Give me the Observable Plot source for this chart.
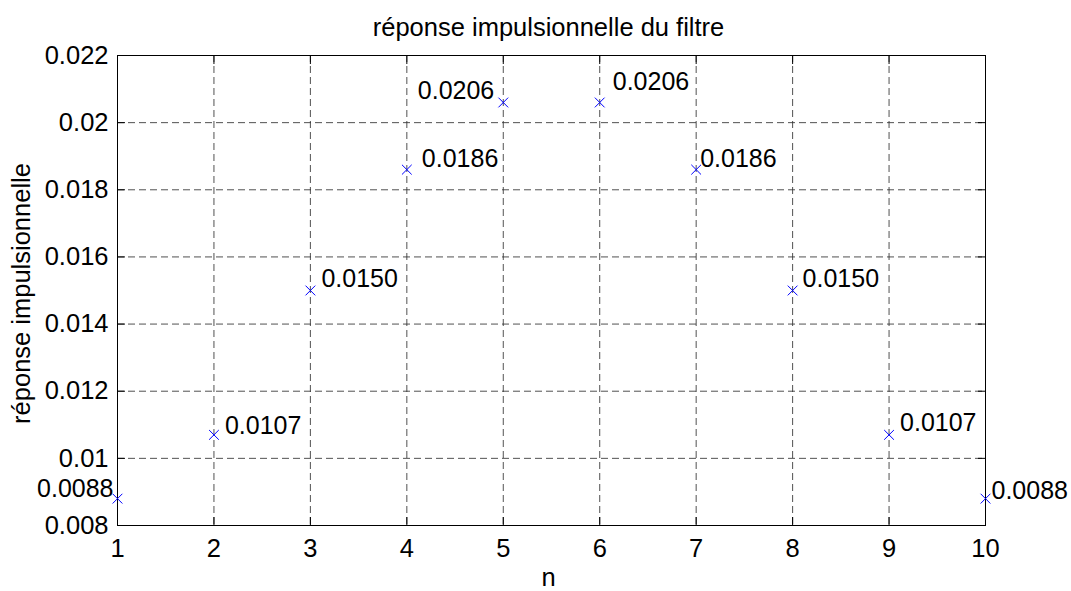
<!DOCTYPE html>
<html>
<head>
<meta charset="utf-8">
<script src="https://cdn.jsdelivr.net/npm/d3@7"></script>
<script src="https://cdn.jsdelivr.net/npm/@observablehq/plot@0.6"></script>
<style>
  html, body { margin: 0; padding: 0; background: #fff; }
  #chart { width: 1071px; height: 591px; }
</style>
</head>
<body>
<div id="chart"></div>
<script>
// ---- data ----
const n = [1, 2, 3, 4, 5, 6, 7, 8, 9, 10];
const h = [0.0088, 0.0107, 0.0150, 0.0186, 0.0206, 0.0206, 0.0186, 0.0150, 0.0107, 0.0088];
const xTicks = [1, 2, 3, 4, 5, 6, 7, 8, 9, 10];
const yTicks = [0.008, 0.010, 0.012, 0.014, 0.016, 0.018, 0.020, 0.022];
const titleText = "réponse impulsionnelle du filtre";
const xLabelText = "n";
const yLabelText = "réponse impulsionnelle";

// ---- label placement (style) ----
const labelPlacement = [
  {anchor: "end",   dx: -4, dy: -10},
  {anchor: "start", dx: 11, dy: -9},
  {anchor: "start", dx: 11, dy: -12},
  {anchor: "start", dx: 15, dy: -11},
  {anchor: "end",   dx: -9, dy: -12},
  {anchor: "start", dx: 13, dy: -21},
  {anchor: "start", dx: 4,  dy: -11},
  {anchor: "start", dx: 10, dy: -12},
  {anchor: "start", dx: 11, dy: -12},
  {anchor: "start", dx: 6,  dy: -8}
];

const data = n.map((v, i) => ({n: v, h: h[i]}));
const fmtY = d => String(+d.toFixed(3));
const FONT = "'Liberation Sans', Arial, Helvetica, sans-serif";
const FS_TICK = 25.5;
const FS_LABEL = 25;
const FS_TITLE = 25.5;
const gridStyle = {stroke: "#333", strokeOpacity: 0.85, strokeWidth: 1, strokeDasharray: "7,4"};

const labelMarks = data.map((d, i) => Plot.text([d], {
  x: "n", y: "h", text: dd => dd.h.toFixed(4),
  textAnchor: labelPlacement[i].anchor,
  dx: labelPlacement[i].dx, dy: labelPlacement[i].dy,
  lineAnchor: "middle", fontSize: FS_LABEL, fill: "black"
}));

const chart = Plot.plot({
  width: 1071,
  height: 591,
  marginLeft: 117,
  marginRight: 86,
  marginTop: 55,
  marginBottom: 66,
  style: {fontFamily: FONT, fontSize: FS_TICK + "px", background: "white", color: "black"},
  x: {domain: [1, 10], nice: false},
  y: {domain: [0.008, 0.022], nice: false},
  marks: [
    Plot.gridX(xTicks, gridStyle),
    Plot.gridY(yTicks, gridStyle),
    // tick labels
    Plot.axisX(xTicks, {anchor: "bottom", tickSize: 0, tickPadding: 13, fontSize: FS_TICK, label: null}),
    Plot.axisY(yTicks, {anchor: "left", tickSize: 0, tickPadding: 9, fontSize: FS_TICK, tickFormat: fmtY, label: null}),
    // inward tick marks on all four sides
    Plot.axisX(xTicks, {anchor: "bottom", tickSize: -8, tickFormat: () => "", label: null}),
    Plot.axisX(xTicks, {anchor: "top", tickSize: -8, tickFormat: () => "", label: null}),
    Plot.axisY(yTicks, {anchor: "left", tickSize: -8, tickFormat: () => "", label: null}),
    Plot.axisY(yTicks, {anchor: "right", tickSize: -8, tickFormat: () => "", label: null}),
    Plot.frame({stroke: "black", strokeWidth: 1}),
    Plot.dot(data, {x: "n", y: "h", symbol: "times", r: 4.5, stroke: "#0000ff", strokeWidth: 1}),
    ...labelMarks,
    Plot.text([titleText], {frameAnchor: "top", dx: -3, dy: -28, lineAnchor: "middle", fontSize: FS_TITLE, fill: "black"}),
    Plot.text([xLabelText], {frameAnchor: "bottom", dx: -3, dy: 52, lineAnchor: "middle", fontSize: FS_TITLE, fill: "black"}),
    Plot.text([yLabelText], {frameAnchor: "left", dx: -96, dy: 3, rotate: -90, textAnchor: "middle", lineAnchor: "middle", fontSize: FS_TITLE, fill: "black"})
  ]
});
document.getElementById("chart").appendChild(chart);
</script>
</body>
</html>
